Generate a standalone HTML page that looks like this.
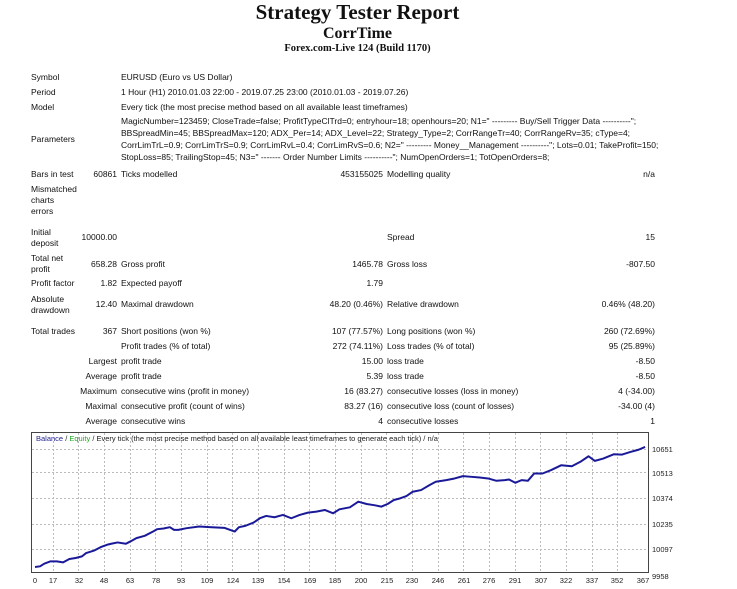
<!DOCTYPE html>
<html><head><meta charset="utf-8"><style>
body{margin:0;width:737px;height:589px;background:#fff;position:relative;font-family:"Liberation Sans",sans-serif;font-size:8.5px;color:#111;overflow:hidden}
.t{position:absolute;white-space:nowrap;line-height:11px}
.r{position:absolute;white-space:nowrap;text-align:right;line-height:11px}
.c{position:absolute;left:0;width:715px;text-align:center;font-family:"Liberation Serif",serif;font-weight:bold}
</style></head><body>
<div class="c" style="top:0;font-size:21px;line-height:24px">Strategy Tester Report</div>
<div class="c" style="top:24px;font-size:16px;line-height:20px">CorrTime</div>
<div class="c" style="top:42px;font-size:10.5px;line-height:13px">Forex.com-Live 124 (Build 1170)</div>

<div class="t" style="left:31px;top:72px">Symbol</div><div class="t" style="left:121px;top:72px">EURUSD (Euro vs US Dollar)</div>
<div class="t" style="left:31px;top:87px">Period</div><div class="t" style="left:121px;top:87px">1 Hour (H1) 2010.01.03 22:00 - 2019.07.25 23:00 (2010.01.03 - 2019.07.26)</div>
<div class="t" style="left:31px;top:102px">Model</div><div class="t" style="left:121px;top:102px">Every tick (the most precise method based on all available least timeframes)</div>
<div class="t" style="left:31px;top:134px">Parameters</div>
<div class="t" style="left:121px;top:116px">MagicNumber=123459; CloseTrade=false; ProfitTypeClTrd=0; entryhour=18; openhours=20; N1=" --------- Buy/Sell Trigger Data ----------";</div>
<div class="t" style="left:121px;top:128px">BBSpreadMin=45; BBSpreadMax=120; ADX_Per=14; ADX_Level=22; Strategy_Type=2; CorrRangeTr=40; CorrRangeRv=35; cType=4;</div>
<div class="t" style="left:121px;top:140px">CorrLimTrL=0.9; CorrLimTrS=0.9; CorrLimRvL=0.4; CorrLimRvS=0.6; N2=" --------- Money__Management ----------"; Lots=0.01; TakeProfit=150;</div>
<div class="t" style="left:121px;top:152px">StopLoss=85; TrailingStop=45; N3=" ------- Order Number Limits ----------"; NumOpenOrders=1; TotOpenOrders=8;</div>
<div class="t" style="left:31px;top:169px">Bars in test</div><div class="r" style="right:620px;top:169px">60861</div><div class="t" style="left:121px;top:169px">Ticks modelled</div><div class="r" style="right:354px;top:169px">453155025</div><div class="t" style="left:387px;top:169px">Modelling quality</div><div class="r" style="right:82px;top:169px">n/a</div>
<div class="t" style="left:31px;top:184px">Mismatched<br>charts<br>errors</div>
<div class="t" style="left:31px;top:227px">Initial<br>deposit</div><div class="r" style="right:620px;top:232px">10000.00</div><div class="t" style="left:387px;top:232px">Spread</div><div class="r" style="right:82px;top:232px">15</div>
<div class="t" style="left:31px;top:253px">Total net<br>profit</div><div class="r" style="right:620px;top:259px">658.28</div><div class="t" style="left:121px;top:259px">Gross profit</div><div class="r" style="right:354px;top:259px">1465.78</div><div class="t" style="left:387px;top:259px">Gross loss</div><div class="r" style="right:82px;top:259px">-807.50</div>
<div class="t" style="left:31px;top:278px">Profit factor</div><div class="r" style="right:620px;top:278px">1.82</div><div class="t" style="left:121px;top:278px">Expected payoff</div><div class="r" style="right:354px;top:278px">1.79</div>
<div class="t" style="left:31px;top:294px">Absolute<br>drawdown</div><div class="r" style="right:620px;top:299px">12.40</div><div class="t" style="left:121px;top:299px">Maximal drawdown</div><div class="r" style="right:354px;top:299px">48.20 (0.46%)</div><div class="t" style="left:387px;top:299px">Relative drawdown</div><div class="r" style="right:82px;top:299px">0.46% (48.20)</div>
<div class="t" style="left:31px;top:326px">Total trades</div><div class="r" style="right:620px;top:326px">367</div><div class="t" style="left:121px;top:326px">Short positions (won %)</div><div class="r" style="right:354px;top:326px">107 (77.57%)</div><div class="t" style="left:387px;top:326px">Long positions (won %)</div><div class="r" style="right:82px;top:326px">260 (72.69%)</div>
<div class="t" style="left:121px;top:341px">Profit trades (% of total)</div><div class="r" style="right:354px;top:341px">272 (74.11%)</div><div class="t" style="left:387px;top:341px">Loss trades (% of total)</div><div class="r" style="right:82px;top:341px">95 (25.89%)</div>
<div class="r" style="right:620px;top:356px">Largest</div><div class="t" style="left:121px;top:356px">profit trade</div><div class="r" style="right:354px;top:356px">15.00</div><div class="t" style="left:387px;top:356px">loss trade</div><div class="r" style="right:82px;top:356px">-8.50</div>
<div class="r" style="right:620px;top:371px">Average</div><div class="t" style="left:121px;top:371px">profit trade</div><div class="r" style="right:354px;top:371px">5.39</div><div class="t" style="left:387px;top:371px">loss trade</div><div class="r" style="right:82px;top:371px">-8.50</div>
<div class="r" style="right:620px;top:386px">Maximum</div><div class="t" style="left:121px;top:386px">consecutive wins (profit in money)</div><div class="r" style="right:354px;top:386px">16 (83.27)</div><div class="t" style="left:387px;top:386px">consecutive losses (loss in money)</div><div class="r" style="right:82px;top:386px">4 (-34.00)</div>
<div class="r" style="right:620px;top:401px">Maximal</div><div class="t" style="left:121px;top:401px">consecutive profit (count of wins)</div><div class="r" style="right:354px;top:401px">83.27 (16)</div><div class="t" style="left:387px;top:401px">consecutive loss (count of losses)</div><div class="r" style="right:82px;top:401px">-34.00 (4)</div>
<div class="r" style="right:620px;top:416px">Average</div><div class="t" style="left:121px;top:416px">consecutive wins</div><div class="r" style="right:354px;top:416px">4</div><div class="t" style="left:387px;top:416px">consecutive losses</div><div class="r" style="right:82px;top:416px">1</div>

<svg style="position:absolute;left:0;top:0" width="737" height="589">
<g stroke="#bbb" stroke-dasharray="2,2" stroke-width="1">
<line x1="32" y1="449.5" x2="648" y2="449.5"/><line x1="32" y1="472.5" x2="648" y2="472.5"/><line x1="32" y1="498.5" x2="648" y2="498.5"/><line x1="32" y1="524.5" x2="648" y2="524.5"/><line x1="32" y1="549.5" x2="648" y2="549.5"/>
<line x1="53.5" y1="433" x2="53.5" y2="572"/><line x1="78.5" y1="433" x2="78.5" y2="572"/><line x1="104.5" y1="433" x2="104.5" y2="572"/><line x1="130.5" y1="433" x2="130.5" y2="572"/><line x1="155.5" y1="433" x2="155.5" y2="572"/><line x1="181.5" y1="433" x2="181.5" y2="572"/><line x1="207.5" y1="433" x2="207.5" y2="572"/><line x1="232.5" y1="433" x2="232.5" y2="572"/><line x1="258.5" y1="433" x2="258.5" y2="572"/><line x1="284.5" y1="433" x2="284.5" y2="572"/><line x1="309.5" y1="433" x2="309.5" y2="572"/><line x1="335.5" y1="433" x2="335.5" y2="572"/><line x1="361.5" y1="433" x2="361.5" y2="572"/><line x1="386.5" y1="433" x2="386.5" y2="572"/><line x1="412.5" y1="433" x2="412.5" y2="572"/><line x1="438.5" y1="433" x2="438.5" y2="572"/><line x1="463.5" y1="433" x2="463.5" y2="572"/><line x1="489.5" y1="433" x2="489.5" y2="572"/><line x1="515.5" y1="433" x2="515.5" y2="572"/><line x1="540.5" y1="433" x2="540.5" y2="572"/><line x1="566.5" y1="433" x2="566.5" y2="572"/><line x1="592.5" y1="433" x2="592.5" y2="572"/><line x1="617.5" y1="433" x2="617.5" y2="572"/>
</g>
<rect x="31.5" y="432.5" width="617" height="140" fill="none" stroke="#444"/>
<g transform="translate(27.5,430.4) scale(0.4187,0.3315)">
<polyline fill="none" stroke="#1a1a99" stroke-width="2" vector-effect="non-scaling-stroke" stroke-linejoin="round" points="18,412 30,410 40,402 55,395 70,395 85,398 100,388 115,385 130,380 140,370 160,362 175,352 190,345 200,342 215,338 235,342 250,332 260,325 280,318 300,305 310,298 325,296 340,292 350,300 360,300 380,295 410,290 440,292 470,294 495,305 505,292 520,288 540,278 555,265 570,258 590,262 610,255 630,265 650,255 670,248 690,245 710,240 730,250 745,238 770,232 790,215 810,222 830,226 845,230 860,222 875,210 890,205 905,198 920,185 940,180 960,165 975,155 1000,150 1020,145 1040,138 1060,140 1080,142 1100,145 1120,152 1140,150 1150,148 1165,158 1180,150 1195,152 1210,130 1230,130 1250,120 1275,105 1300,108 1320,95 1340,78 1355,92 1375,85 1400,72 1420,73 1440,65 1460,58 1475,50"/>
</g>
<g font-family="Liberation Sans,sans-serif" font-size="7.5" fill="#222">
<text x="36" y="441"><tspan fill="#22228f">Balance</tspan> / <tspan fill="#2a2">Equity</tspan> / Every tick (the most precise method based on all available least timeframes to generate each tick) / n/a</text>
<g font-size="7.5"><text x="652" y="452">10651</text><text x="652" y="476">10513</text><text x="652" y="501">10374</text><text x="652" y="527">10235</text><text x="652" y="552">10097</text><text x="652" y="579">9958</text></g>
<g text-anchor="middle" font-size="7.5"><text x="35" y="583">0</text><text x="53" y="583">17</text><text x="79" y="583">32</text><text x="104" y="583">48</text><text x="130" y="583">63</text><text x="156" y="583">78</text><text x="181" y="583">93</text><text x="207" y="583">109</text><text x="233" y="583">124</text><text x="258" y="583">139</text><text x="284" y="583">154</text><text x="310" y="583">169</text><text x="335" y="583">185</text><text x="361" y="583">200</text><text x="387" y="583">215</text><text x="412" y="583">230</text><text x="438" y="583">246</text><text x="464" y="583">261</text><text x="489" y="583">276</text><text x="515" y="583">291</text><text x="541" y="583">307</text><text x="566" y="583">322</text><text x="592" y="583">337</text><text x="617" y="583">352</text><text x="643" y="583">367</text></g>
</g>
</svg>
</body></html>
